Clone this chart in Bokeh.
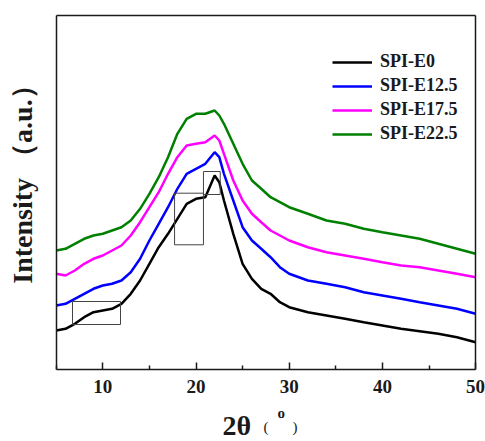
import math
from bokeh.plotting import figure
from bokeh.models import Range1d, FixedTicker, Legend, LegendItem, Label, LinearAxis
from bokeh.embed import file_html
from bokeh.resources import INLINE

# 2theta positions (degrees)
two_theta = [5, 6, 7, 8, 9, 10, 11, 12, 13, 14, 15, 16, 17, 18, 19, 20, 21, 22, 22.5,
             23, 24, 25, 26, 27, 28, 29, 30, 32, 34, 36, 38, 40, 42, 44, 46, 48, 50]

# intensities (arbitrary units, curves are vertically offset)
spi_e0 = [39, 40.7, 45.7, 52.3, 57.3, 59, 60.7, 65.7, 75.7, 89, 105.7, 122.3, 135.7, 150.7,
          165.7, 170.7, 172.3, 194, 187.3, 169, 135.7, 105.7, 90.7, 80.7, 75.7, 67.3, 62.3,
          57.3, 54, 50.7, 47.3, 44, 40.7, 38.3, 35.7, 32.3, 27.3]
spi_e12_5 = [64, 65.7, 70.7, 75.7, 80.7, 84, 85.7, 89, 97.3, 110.7, 129, 145.7, 162.3, 180.7,
             195.7, 200.7, 205.7, 217.3, 212.3, 195.7, 169, 142.3, 129, 120.7, 112.3, 102.3,
             95.7, 89, 85.7, 82.3, 77.3, 74, 70.7, 67.3, 64, 60.7, 55.7]
spi_e17_5 = [95.7, 94, 99, 105.7, 110.7, 114, 119, 124, 134, 147.3, 162.3, 177.3, 195.7,
             212.3, 224, 225.7, 227.3, 234, 229, 215.7, 189, 169, 155.7, 147.3, 139, 134, 129,
             122.3, 117.3, 114, 110.7, 107.3, 104, 102.3, 99, 95.7, 92.3]
spi_e22_5 = [119, 120.7, 125.7, 130.7, 134, 135.7, 139, 142.3, 149, 160.7, 175.7, 192.3,
             212.3, 235.7, 250.7, 255.7, 255.7, 259, 254, 245.7, 225.7, 205.7, 189, 180.7,
             172.3, 167.3, 162.3, 155.7, 149, 145.7, 140.7, 137.3, 134, 130.7, 125.7, 120.7,
             115.7]

series_names = ["SPI-E0", "SPI-E12.5", "SPI-E17.5", "SPI-E22.5"]
series_colors = ["black", "#0000ff", "#ff00ff", "#008000"]

x_ticks = [10, 20, 30, 40, 50]
x_minor_ticks = [5, 15, 25, 35, 45]
x_min, x_max = 5, 50
y_min, y_max = 0, 354

# annotation boxes on the SPI-E0 curve
box_left = [6.75, 17.7, 20.8]
box_right = [11.9, 20.8, 22.6]
box_bottom = [45, 124.7, 175]
box_top = [68, 176.3, 198]

FONT = "Liberation Serif"
INK = "#1a1a1a"

W, H = 485, 441
px_per_x = 9.32
x_start = x_min - 55.7 / px_per_x
y_start = -72

p = figure(width=W, height=H, output_backend="svg", toolbar_location=None,
           x_range=Range1d(x_start, x_start + W / px_per_x),
           y_range=Range1d(y_start, y_start + H),
           x_axis_location=None, y_axis_location=None,
           min_border=0, min_border_left=0, min_border_right=0,
           min_border_top=0, min_border_bottom=0)
p.xgrid.visible = False
p.ygrid.visible = False
p.background_fill_color = "white"
p.border_fill_color = "white"
p.outline_line_color = None


def frame_axis(place, loc, bounds, ticks=None, minor=None):
    a = LinearAxis(fixed_location=loc, bounds=bounds,
                   ticker=FixedTicker(ticks=ticks or [], minor_ticks=minor or []))
    a.axis_line_color = INK
    a.axis_line_width = 1.5
    a.major_tick_line_color = INK
    a.minor_tick_line_color = INK
    a.major_tick_line_width = 1.5
    a.minor_tick_line_width = 1.5
    a.major_tick_in = 7
    a.major_tick_out = 0
    a.minor_tick_in = 4
    a.minor_tick_out = 0
    a.major_label_text_font = FONT
    a.major_label_text_font_style = "bold"
    a.major_label_text_font_size = "19px"
    a.major_label_text_color = INK
    a.major_label_standoff = 10
    p.add_layout(a, place)
    return a


frame_axis("below", y_min, (x_min, x_max), x_ticks, x_minor_ticks)
frame_axis("above", y_max, (x_min, x_max))
frame_axis("left", x_min, (y_min, y_max))
frame_axis("right", x_max, (y_min, y_max))

all_y = [spi_e0, spi_e12_5, spi_e17_5, spi_e22_5]
renderers = []
for ys, c in zip(all_y, series_colors):
    r = p.line(two_theta, ys, line_color=c, line_width=2.5)
    renderers.append(r)

p.quad(left=box_left, right=box_right, bottom=box_bottom, top=box_top,
       fill_color=None, line_color="#444444", line_width=1)

legend = Legend(items=[LegendItem(label=n, renderers=[r]) for n, r in zip(series_names, renderers)],
                location=(332, 297))
legend.label_text_font = FONT
legend.label_text_font_style = "bold"
legend.label_text_font_size = "18px"
legend.label_text_color = INK
legend.glyph_width = 40
legend.glyph_height = 20
legend.label_height = 20
legend.label_standoff = 8
legend.spacing = 3
legend.padding = 0
legend.margin = 0
legend.border_line_color = None
legend.background_fill_alpha = 0
p.add_layout(legend)

# axis titles
p.add_layout(Label(x=1.4, y=192, text="Intensity （a.u.）", angle=math.pi / 2,
                   text_align="center", text_baseline="alphabetic",
                   text_font=FONT, text_font_style="bold", text_font_size="28px",
                   text_color=INK))
p.add_layout(Label(x=22.84, y=-56, text="2θ", text_align="left", text_baseline="alphabetic",
                   text_font=FONT, text_font_style="bold", text_font_size="28px",
                   text_color=INK))
p.add_layout(Label(x=27.25, y=-57, text="(", text_align="left", text_baseline="alphabetic",
                   text_font=FONT, text_font_size="15px", text_color=INK))
p.add_layout(Label(x=28.75, y=-43, text="o", text_align="left", text_baseline="alphabetic",
                   text_font=FONT, text_font_style="bold", text_font_size="15px",
                   text_color=INK))
p.add_layout(Label(x=30.35, y=-57, text=")", text_align="left", text_baseline="alphabetic",
                   text_font=FONT, text_font_size="15px", text_color=INK))

open("out.html", "w").write(file_html(p, INLINE))
